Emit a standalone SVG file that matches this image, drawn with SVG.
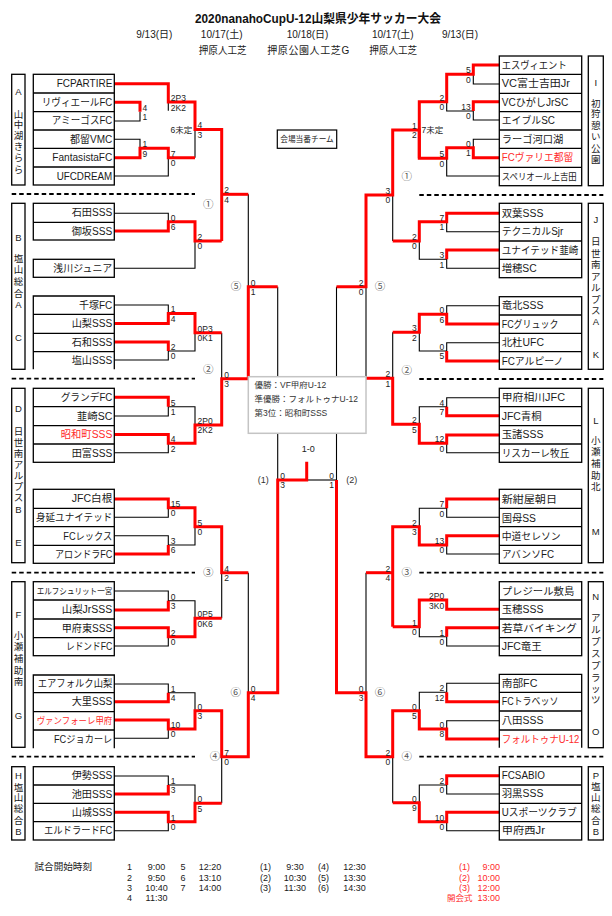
<svg xmlns="http://www.w3.org/2000/svg" width="612" height="916" viewBox="0 0 612 916">
<style>
.k{fill:none;stroke:#000;stroke-width:1.1}
.r{fill:none;stroke:#ff0000;stroke-width:3;stroke-linejoin:miter}
.bx{fill:none;stroke:#000;stroke-width:1.3}
.ds{fill:none;stroke:#000;stroke-width:1.8;stroke-dasharray:4.5 3}
text{font-family:"Liberation Sans","Noto Sans CJK JP",sans-serif}
.tn{font-size:10px;fill:#1a1a1a}
.tl{text-anchor:end}
.red{fill:#ff2b2b}
.gl{font-size:9.5px;fill:#1a1a1a;text-anchor:middle}
.sc{font-size:8.5px;fill:#222}
.sr{text-anchor:end}
.cn{font-size:10.5px;fill:#555;text-anchor:middle}
.hd{font-size:10px;fill:#1a1a1a;text-anchor:middle}
.ft{font-size:9px;fill:#1a1a1a;text-anchor:middle}
.fr{font-size:9px;fill:#ff2b2b;text-anchor:end}
</style>
<rect width="612" height="916" fill="#fff"/>

<g id="header">
<text x="318" y="22.5" text-anchor="middle" font-size="12.5" font-weight="bold" fill="#111" textLength="246" lengthAdjust="spacingAndGlyphs">2020nanahoCupU-12山梨県少年サッカー大会</text>
<text class="hd" x="154.3" y="37.6">9/13(日)</text>
<text class="hd" x="221.7" y="37.6">10/17(土)</text>
<text class="hd" x="307.6" y="37.6">10/18(日)</text>
<text class="hd" x="392.8" y="37.6">10/17(土)</text>
<text class="hd" x="460" y="37.6">9/13(日)</text>
<text class="hd" x="222.7" y="53.6" textLength="48" lengthAdjust="spacingAndGlyphs">押原人工芝</text>
<text class="hd" x="308.2" y="53.6" textLength="82" lengthAdjust="spacing">押原公園人工芝G</text>
<text class="hd" x="393.2" y="53.6" textLength="48" lengthAdjust="spacingAndGlyphs">押原人工芝</text>
</g>

<g id="dividers">
<path class="ds" d="M11.7 194H195M11.7 378.7H195M11.7 572.7H195M11.7 756.7H195M419.3 195H603.3M419.3 379H603.3M419.3 572.7H603.3M419.3 756.7H603.3"/>
</g>

<g id="connectors">
<g id="black-lines">
<polyline class="k" points="114.3,121 140,121 140,111.7"/>
<polyline class="k" points="114.3,139.3 140,139.3 140,148.3"/>
<polyline class="k" points="114.3,176 168.3,176 168.3,157.7"/>
<polyline class="k" points="168.3,102 168.3,110.7"/>
<polyline class="k" points="195,129.5 195,157.7"/>
<polyline class="k" points="114.3,213.3 168.3,213.3 168.3,221.7"/>
<polyline class="k" points="114.3,268.3 195,268.3 195,241"/>
<polyline class="k" points="248.3,194.3 248.3,286.7"/>
<polyline class="k" points="114.3,305 168.3,305 168.3,313.5"/>
<polyline class="k" points="114.3,360 168.3,360 168.3,351 195,351 195,332.7"/>
<polyline class="k" points="221.7,332.7 221.7,378.7"/>
<polyline class="k" points="114.3,416 168.3,416 168.3,406.7 195,406.7 195,425"/>
<polyline class="k" points="114.3,452.7 168.3,452.7 168.3,443.3"/>
<polyline class="k" points="114.3,517.3 168.3,517.3 168.3,507.7"/>
<polyline class="k" points="114.3,535.7 168.3,535.7 168.3,545 195,545 195,526.7"/>
<polyline class="k" points="114.3,591 168.3,591 168.3,600.7 195,600.7 195,618.3"/>
<polyline class="k" points="114.3,646 168.3,646 168.3,636.7"/>
<polyline class="k" points="221.7,572.7 221.7,618.3"/>
<polyline class="k" points="248.3,572.7 248.3,692.7"/>
<polyline class="k" points="114.3,684 168.3,684 168.3,692.7 195,692.7 195,710.7"/>
<polyline class="k" points="114.3,738.3 168.3,738.3 168.3,729"/>
<polyline class="k" points="114.3,776 168.3,776 168.3,785 195,785 195,803.3"/>
<polyline class="k" points="114.3,830.7 168.3,830.7 168.3,821.7"/>
<polyline class="k" points="221.7,756.7 221.7,803.3"/>
<polyline class="k" points="277.7,286.7 277.7,480"/>
<polyline class="k" points="306.7,480 336.5,480"/>
<polyline class="k" points="336.5,286.7 336.5,480"/>
<polyline class="k" points="499.3,84 473.3,84 473.3,74.3"/>
<polyline class="k" points="499.3,120 473.3,120 473.3,111 446.7,111 446.7,101.7"/>
<polyline class="k" points="499.3,139.3 473.3,139.3 473.3,147.7"/>
<polyline class="k" points="499.3,176 446.7,176 446.7,158.3"/>
<polyline class="k" points="392.7,195 392.7,241"/>
<polyline class="k" points="499.3,231.7 446.7,231.7 446.7,221.7"/>
<polyline class="k" points="499.3,268.3 446.7,268.3 446.7,259.3 419.3,259.3 419.3,241"/>
<polyline class="k" points="366,286.7 366,378.3"/>
<polyline class="k" points="499.3,305.7 446.7,305.7 446.7,314.3"/>
<polyline class="k" points="499.3,342.7 446.7,342.7 446.7,351 419.3,351 419.3,332.3"/>
<polyline class="k" points="392.7,332.3 392.7,378.3"/>
<polyline class="k" points="499.3,397.7 446.7,397.7 446.7,406.7 419.3,406.7 419.3,424.3"/>
<polyline class="k" points="499.3,452.7 446.7,452.7 446.7,443.3"/>
<polyline class="k" points="499.3,517.3 446.7,517.3 446.7,508.3 419.3,508.3 419.3,526.7"/>
<polyline class="k" points="499.3,554 446.7,554 446.7,545"/>
<polyline class="k" points="499.3,646 446.7,646 446.7,636.7 419.3,636.7 419.3,626.7"/>
<polyline class="k" points="366,572.7 366,692.7"/>
<polyline class="k" points="499.3,683.3 446.7,683.3 446.7,692.3 419.3,692.3 419.3,710.7"/>
<polyline class="k" points="499.3,720.7 446.7,720.7 446.7,729"/>
<polyline class="k" points="392.7,756.7 392.7,802.7"/>
<polyline class="k" points="499.3,794 446.7,794 446.7,785 419.3,785 419.3,802.7"/>
<polyline class="k" points="499.3,830.7 446.7,830.7 446.7,821.7"/>
</g>
<g id="red-lines">
<polyline class="r" points="114.3,83.7 168.3,83.7 168.3,102 195,102 195,129.5 221.7,129.5 221.7,241"/>
<polyline class="r" points="221.7,194.3 248.3,194.3"/>
<polyline class="r" points="114.3,102.3 140,102.3 140,111.7"/>
<polyline class="r" points="114.3,157.7 140,157.7 140,148.3 168.3,148.3 168.3,157.7 195,157.7"/>
<polyline class="r" points="114.3,231 168.3,231 168.3,221.7 195,221.7 195,241 221.7,241"/>
<polyline class="r" points="114.3,323.5 168.3,323.5 168.3,313.5 195,313.5 195,332.7 221.7,332.7"/>
<polyline class="r" points="114.3,342 168.3,342 168.3,351"/>
<polyline class="r" points="114.3,434.5 168.3,434.5 168.3,443.3 195,443.3 195,425 221.7,425 221.7,378.7 248.3,378.7 248.3,286.7 277.7,286.7"/>
<polyline class="r" points="114.3,397.3 168.3,397.3 168.3,406.7"/>
<polyline class="r" points="114.3,499 168.3,499 168.3,507.7 195,507.7 195,526.7 221.7,526.7 221.7,572.7 248.3,572.7"/>
<polyline class="r" points="114.3,554 168.3,554 168.3,545"/>
<polyline class="r" points="114.3,610 168.3,610 168.3,600.7"/>
<polyline class="r" points="114.3,627.7 168.3,627.7 168.3,636.7 195,636.7 195,618.3 221.7,618.3"/>
<polyline class="r" points="114.3,701.7 168.3,701.7 168.3,692.7"/>
<polyline class="r" points="114.3,720 168.3,720 168.3,729 195,729 195,710.7 221.7,710.7 221.7,756.7 248.3,756.7 248.3,692.7 277.7,692.7 277.7,480 306.7,480 306.7,461.7"/>
<polyline class="r" points="114.3,794 168.3,794 168.3,785"/>
<polyline class="r" points="114.3,812.3 168.3,812.3 168.3,821.7 195,821.7 195,803.3 221.7,803.3"/>
<polyline class="r" points="499.3,65 473.3,65 473.3,74.3 446.7,74.3 446.7,101.7 419.3,101.7 419.3,158.3"/>
<polyline class="r" points="499.3,101.7 473.3,101.7 473.3,111"/>
<polyline class="r" points="499.3,157.7 473.3,157.7 473.3,147.7 446.7,147.7 446.7,158.3 419.3,158.3 419.3,130 392.7,130 392.7,195 366,195 366,286.7 336.5,286.7"/>
<polyline class="r" points="499.3,213.3 446.7,213.3 446.7,221.7 419.3,221.7 419.3,241 392.7,241"/>
<polyline class="r" points="499.3,250 446.7,250 446.7,259.3"/>
<polyline class="r" points="499.3,324 446.7,324 446.7,314.3 419.3,314.3 419.3,332.3 392.7,332.3"/>
<polyline class="r" points="499.3,361 446.7,361 446.7,351"/>
<polyline class="r" points="499.3,415.7 446.7,415.7 446.7,406.7"/>
<polyline class="r" points="499.3,435 446.7,435 446.7,443.3 419.3,443.3 419.3,424.3 392.7,424.3 392.7,378.3 366,378.3"/>
<polyline class="r" points="499.3,499 446.7,499 446.7,508.3"/>
<polyline class="r" points="499.3,535.7 446.7,535.7 446.7,545 419.3,545 419.3,526.7 392.7,526.7 392.7,626.7"/>
<polyline class="r" points="392.7,572.7 366,572.7"/>
<polyline class="r" points="499.3,609.3 446.7,609.3 446.7,600 419.3,600 419.3,626.7 392.7,626.7"/>
<polyline class="r" points="499.3,627.7 446.7,627.7 446.7,636.7"/>
<polyline class="r" points="499.3,701.7 446.7,701.7 446.7,692.3"/>
<polyline class="r" points="499.3,739 446.7,739 446.7,729 419.3,729 419.3,710.7 392.7,710.7 392.7,756.7 366,756.7 366,692.7 336.5,692.7 336.5,480"/>
<polyline class="r" points="499.3,775.7 446.7,775.7 446.7,785"/>
<polyline class="r" points="499.3,812.3 446.7,812.3 446.7,821.7 419.3,821.7 419.3,802.7 392.7,802.7"/>
</g>
</g>

<g id="scores" class="sc">
<text x="142.5" y="110.5">4</text><text x="142.5" y="120">1</text>
<text x="142.5" y="147.1">1</text><text x="142.5" y="156.6">9</text>
<text x="170.8" y="100.7">2P3</text><text x="170.8" y="110.7">2K2</text>
<text x="170.5" y="133.3">6未定</text>
<text x="170.8" y="156.5">7</text><text x="170.8" y="166">0</text>
<text x="170.8" y="220.5">0</text><text x="170.8" y="230">6</text>
<text x="170.8" y="312.3">1</text><text x="170.8" y="321.8">4</text>
<text x="170.8" y="349.8">2</text><text x="170.8" y="359.3">0</text>
<text x="170.8" y="405.5">5</text><text x="170.8" y="415">1</text>
<text x="170.8" y="442.1">4</text><text x="170.8" y="451.6">2</text>
<text x="170.8" y="506.5">15</text><text x="170.8" y="516">0</text>
<text x="170.8" y="543.8">3</text><text x="170.8" y="553.3">6</text>
<text x="170.8" y="599.5">0</text><text x="170.8" y="609">3</text>
<text x="170.8" y="635.5">2</text><text x="170.8" y="645">0</text>
<text x="170.8" y="691.5">1</text><text x="170.8" y="701">4</text>
<text x="170.8" y="727.8">10</text><text x="170.8" y="737.3">0</text>
<text x="170.8" y="783.8">1</text><text x="170.8" y="793.3">3</text>
<text x="170.8" y="820.5">1</text><text x="170.8" y="830">0</text>
<text x="197.5" y="128.3">4</text><text x="197.5" y="137.8">3</text>
<text x="197.5" y="239.8">2</text><text x="197.5" y="249.3">0</text>
<text x="197.5" y="331.5">0P3</text><text x="197.5" y="341">0K1</text>
<text x="197.5" y="423.8">2P0</text><text x="197.5" y="433.3">2K2</text>
<text x="197.5" y="525.5">5</text><text x="197.5" y="535">0</text>
<text x="197.5" y="617.1">0P5</text><text x="197.5" y="626.6">0K6</text>
<text x="197.5" y="709.5">0</text><text x="197.5" y="719">3</text>
<text x="197.5" y="802.1">0</text><text x="197.5" y="811.6">5</text>
<text x="224.2" y="193.1">2</text><text x="224.2" y="202.6">4</text>
<text x="224.2" y="377.5">0</text><text x="224.2" y="387">3</text>
<text x="224.2" y="571.5">4</text><text x="224.2" y="581">2</text>
<text x="224.2" y="755.5">7</text><text x="224.2" y="765">0</text>
<text x="250.8" y="285.5">0</text><text x="250.8" y="295">1</text>
<text x="250.8" y="691.5">0</text><text x="250.8" y="701">4</text>
<text x="280.2" y="478.8">0</text><text x="280.2" y="488.3">3</text>
<g class="sr">
<text x="470.8" y="73.1">5</text><text x="470.8" y="82.6">0</text>
<text x="470.8" y="109.8">13</text><text x="470.8" y="119.3">0</text>
<text x="470.8" y="146.5">0</text><text x="470.8" y="156">1</text>
<text x="444.2" y="100.5">2</text><text x="444.2" y="110">0</text>
<text x="444.2" y="157.1">5</text><text x="444.2" y="166.6">0</text>
<text x="444.2" y="220.5">7</text><text x="444.2" y="230">1</text>
<text x="444.2" y="258.1">3</text><text x="444.2" y="267.6">1</text>
<text x="444.2" y="313.1">0</text><text x="444.2" y="322.6">6</text>
<text x="444.2" y="349.8">0</text><text x="444.2" y="359.3">5</text>
<text x="444.2" y="405.5">4</text><text x="444.2" y="415">7</text>
<text x="444.2" y="442.1">12</text><text x="444.2" y="451.6">0</text>
<text x="444.2" y="507.1">7</text><text x="444.2" y="516.6">0</text>
<text x="444.2" y="543.8">13</text><text x="444.2" y="553.3">0</text>
<text x="444.2" y="599.3">2P0</text><text x="444.2" y="608.8">3K0</text>
<text x="444.2" y="635.5">1</text><text x="444.2" y="645">0</text>
<text x="444.2" y="691.1">2</text><text x="444.2" y="700.6">12</text>
<text x="444.2" y="727.8">0</text><text x="444.2" y="737.3">8</text>
<text x="444.2" y="783.8">2</text><text x="444.2" y="793.3">0</text>
<text x="444.2" y="820.5">10</text><text x="444.2" y="830">0</text>
<text x="416.8" y="128.8">1</text><text x="416.8" y="138.3">2</text>
<text x="416.8" y="239.8">2</text><text x="416.8" y="249.3">0</text>
<text x="416.8" y="331.1">3</text><text x="416.8" y="340.6">2</text>
<text x="416.8" y="423.1">2</text><text x="416.8" y="432.6">5</text>
<text x="416.8" y="525.5">2</text><text x="416.8" y="535">3</text>
<text x="416.8" y="625.8">1</text><text x="416.8" y="635.3">0</text>
<text x="416.8" y="709.5">0</text><text x="416.8" y="719">5</text>
<text x="416.8" y="801.5">0</text><text x="416.8" y="811">9</text>
<text x="390.2" y="193.8">3</text><text x="390.2" y="203.3">0</text>
<text x="390.2" y="377.1">2</text><text x="390.2" y="386.6">1</text>
<text x="390.2" y="571.5">2</text><text x="390.2" y="581">4</text>
<text x="390.2" y="755.5">2</text><text x="390.2" y="765">0</text>
<text x="363.5" y="285.5">2</text><text x="363.5" y="295">0</text>
<text x="363.5" y="691.5">0</text><text x="363.5" y="701">3</text>
<text x="334" y="478.8">0</text><text x="334" y="488.3">1</text>
</g>
<text x="421.5" y="133.3">7未定</text>
</g>

<g id="round-marks" class="cn">
<text x="208.3" y="208">①</text><text x="208.3" y="373">②</text><text x="208.3" y="576.4">③</text><text x="215" y="760.4">④</text><text x="236" y="290.4">⑤</text><text x="235.7" y="696">⑥</text>
<text x="406.7" y="179.7">①</text><text x="406.7" y="373.7">②</text><text x="406.7" y="576.4">③</text><text x="406.7" y="760.4">④</text><text x="380" y="290.4">⑤</text><text x="380" y="696.4">⑥</text>
<text x="263.3" y="483.3" font-size="9" fill="#333">(1)</text>
<text x="351.7" y="483.3" font-size="9" fill="#333">(2)</text>
<text x="308.3" y="452.3" font-size="9" fill="#222">1-0</text>
</g>

<g id="duty-note">
<rect x="277.3" y="130" width="59.4" height="18.3" fill="#fff" stroke="#000" stroke-width="1.2"/>
<text x="307" y="142.2" text-anchor="middle" font-size="7.7" fill="#222">会場当番チーム</text>
</g>

<g id="result-box">
<rect x="248.3" y="376.7" width="117.7" height="56.6" fill="#fff" stroke="#c4c4c4" stroke-width="1.5"/>
<text x="254.5" y="388.2" font-size="8.5" fill="#333">優勝：VF甲府U-12</text>
<text x="254.5" y="402" font-size="8.5" fill="#333">準優勝：フォルトゥナU-12</text>
<text x="254.5" y="415.5" font-size="8.5" fill="#333">第3位：昭和町SSS</text>
</g>

<g id="group-A">
<rect class="bx" x="11.7" y="74.3" width="13.3" height="110.7"/>
<g class="gl"><text x="18.4" y="95.2">A</text><text x="18.4" y="117.8">山</text><text x="18.4" y="128.3">中</text><text x="18.4" y="138.8">湖</text><text x="18.4" y="149.5">き</text><text x="18.4" y="161.2">ら</text><text x="18.4" y="172.5">ら</text></g>
<rect class="bx" x="33.3" y="74.3" width="81" height="110.7"/>
<path class="bx" d="M33.3 93H114.3M33.3 111.7H114.3M33.3 130H114.3M33.3 148.3H114.3M33.3 167H114.3"/>
<g class="tn tl">
<text x="112.3" y="87.3" textLength="55.6" lengthAdjust="spacingAndGlyphs">FCPARTIRE</text>
<text x="112.3" y="105.9" textLength="70.6" lengthAdjust="spacingAndGlyphs">リヴィエールFC</text>
<text x="112.3" y="124.4" textLength="60.6" lengthAdjust="spacingAndGlyphs">アミーゴスFC</text>
<text x="112.3" y="142.8" textLength="42.3" lengthAdjust="spacingAndGlyphs">都留VMC</text>
<text x="112.3" y="161.3" textLength="60" lengthAdjust="spacingAndGlyphs">FantasistaFC</text>
<text x="112.3" y="179.6" textLength="55.6" lengthAdjust="spacingAndGlyphs">UFCDREAM</text>
</g>
</g>

<g id="group-BC">
<rect class="bx" x="11.7" y="203.3" width="13.3" height="166"/>
<g class="gl"><text x="18.4" y="240.8">B</text><text x="18.4" y="261.8">塩</text><text x="18.4" y="272.5">山</text><text x="18.4" y="284.5">総</text><text x="18.4" y="296.8">合</text><text x="18.4" y="307.8">A</text><text x="18.4" y="340.8">C</text></g>
<rect class="bx" x="33.3" y="203.3" width="81" height="36.7"/>
<path class="bx" d="M33.3 222.3H114.3"/>
<rect class="bx" x="33.3" y="259.3" width="81" height="18"/>
<path class="bx" d="M33.3 369.3V296H114.3V369.3M33.3 314.3H114.3M33.3 333.3H114.3M33.3 351.7H114.3"/>
<g class="tn tl">
<text x="112.3" y="216.3" textLength="40.6" lengthAdjust="spacingAndGlyphs">石田SSS</text>
<text x="112.3" y="234.8" textLength="40.6" lengthAdjust="spacingAndGlyphs">御坂SSS</text>
<text x="112.3" y="271.9" textLength="59" lengthAdjust="spacingAndGlyphs">浅川ジュニア</text>
<text x="112.3" y="308.8" textLength="33.3" lengthAdjust="spacingAndGlyphs">千塚FC</text>
<text x="112.3" y="327.4" textLength="40.6" lengthAdjust="spacingAndGlyphs">山梨SSS</text>
<text x="112.3" y="346.1" textLength="40.6" lengthAdjust="spacingAndGlyphs">石和SSS</text>
<text x="112.3" y="364.1" textLength="40.6" lengthAdjust="spacingAndGlyphs">塩山SSS</text>
</g>
</g>

<g id="group-DE">
<rect class="bx" x="11.7" y="388.3" width="13.3" height="174.4"/>
<g class="gl"><text x="18.4" y="411.8">D</text><text x="18.4" y="435.2">日</text><text x="18.4" y="445.8">世</text><text x="18.4" y="456.8">南</text><text x="18.4" y="467.5">ア</text><text x="18.4" y="478.5">ル</text><text x="18.4" y="490.2">プ</text><text x="18.4" y="501.2">ス</text><text x="18.4" y="512.8">B</text><text x="18.4" y="546.2">E</text></g>
<rect class="bx" x="33.3" y="388.3" width="81" height="74"/>
<path class="bx" d="M33.3 406.7H114.3M33.3 425.7H114.3M33.3 444H114.3"/>
<rect class="bx" x="33.3" y="489.3" width="81" height="74"/>
<path class="bx" d="M33.3 508.3H114.3M33.3 526.7H114.3M33.3 545.3H114.3"/>
<g class="tn tl">
<text x="112.3" y="401.1" textLength="51.6" lengthAdjust="spacingAndGlyphs">グランデFC</text>
<text x="112.3" y="419.8" textLength="35.6" lengthAdjust="spacingAndGlyphs">韮崎SC</text>
<text class="red" x="112.3" y="438.4" textLength="51.6" lengthAdjust="spacingAndGlyphs">昭和町SSS</text>
<text x="112.3" y="456.6" textLength="40.6" lengthAdjust="spacingAndGlyphs">田富SSS</text>
<text x="112.3" y="502.4" textLength="40.6" lengthAdjust="spacingAndGlyphs">JFC白根</text>
<text x="112.3" y="521.4" textLength="76.3" lengthAdjust="spacingAndGlyphs">身延ユナイテッド</text>
<text x="112.3" y="539.6" textLength="49" lengthAdjust="spacingAndGlyphs">FCレックス</text>
<text x="112.3" y="557.9" textLength="57.3" lengthAdjust="spacingAndGlyphs">アロンドラFC</text>
</g>
</g>

<g id="group-FG">
<rect class="bx" x="11.7" y="581.7" width="13.3" height="165.6"/>
<g class="gl"><text x="18.4" y="617.8">F</text><text x="18.4" y="638.5">小</text><text x="18.4" y="650.2">瀬</text><text x="18.4" y="661.8">補</text><text x="18.4" y="673.5">助</text><text x="18.4" y="685.2">南</text><text x="18.4" y="718.5">G</text></g>
<rect class="bx" x="33.3" y="581.7" width="81" height="74"/>
<path class="bx" d="M33.3 600H114.3M33.3 619H114.3M33.3 637.7H114.3"/>
<path class="bx" d="M33.3 748.3V675H114.3V748.3M33.3 692.7H114.3M33.3 711.7H114.3M33.3 730H114.3"/>
<g class="tn tl">
<text x="112.3" y="594.2" font-size="8.5" textLength="75.6" lengthAdjust="spacingAndGlyphs">エルフシュリット一宮</text>
<text x="112.3" y="613.1" textLength="50.6" lengthAdjust="spacingAndGlyphs">山梨JrSSS</text>
<text x="112.3" y="631.9" textLength="50.6" lengthAdjust="spacingAndGlyphs">甲府東SSS</text>
<text x="112.3" y="650.3" textLength="46.3" lengthAdjust="spacingAndGlyphs">レドンドFC</text>
<text x="112.3" y="687.4" textLength="74.6" lengthAdjust="spacingAndGlyphs">エアフォルク山梨</text>
<text x="112.3" y="705.4" textLength="40.6" lengthAdjust="spacingAndGlyphs">大里SSS</text>
<text class="red" x="112.3" y="724" font-size="9" textLength="75.6" lengthAdjust="spacingAndGlyphs">ヴァンフォーレ甲府</text>
<text x="112.3" y="742.8" textLength="58.3" lengthAdjust="spacingAndGlyphs">FCジョカーレ</text>
</g>
</g>

<g id="group-H">
<rect class="bx" x="11.7" y="766.7" width="13.3" height="73.3"/>
<g class="gl"><text x="18.4" y="778.5">H</text><text x="18.4" y="790.8">塩</text><text x="18.4" y="800.8">山</text><text x="18.4" y="811.8">総</text><text x="18.4" y="823.5">合</text><text x="18.4" y="835.2">B</text></g>
<rect class="bx" x="33.3" y="766.7" width="81" height="73.3"/>
<path class="bx" d="M33.3 785H114.3M33.3 803.3H114.3M33.3 821.7H114.3"/>
<g class="tn tl">
<text x="112.3" y="779.4" textLength="40.6" lengthAdjust="spacingAndGlyphs">伊勢SSS</text>
<text x="112.3" y="797.8" textLength="40.6" lengthAdjust="spacingAndGlyphs">池田SSS</text>
<text x="112.3" y="816.1" textLength="40.6" lengthAdjust="spacingAndGlyphs">山城SSS</text>
<text x="112.3" y="834.4" textLength="68.3" lengthAdjust="spacingAndGlyphs">エルドラードFC</text>
</g>
</g>

<g id="group-I">
<rect class="bx" x="588.3" y="56" width="15" height="129.7"/>
<g class="gl"><text x="595.8" y="86.2">I</text><text x="595.8" y="106.8">初</text><text x="595.8" y="116.8">狩</text><text x="595.8" y="128.5">憩</text><text x="595.8" y="139.5">い</text><text x="595.8" y="151.8">公</text><text x="595.8" y="162.8">園</text></g>
<rect class="bx" x="499.3" y="56" width="82.4" height="129.7"/>
<path class="bx" d="M499.3 74.3H581.7M499.3 93.3H581.7M499.3 111.7H581.7M499.3 130H581.7M499.3 148.3H581.7M499.3 167.3H581.7"/>
<g class="tn">
<text x="501.7" y="68.8" textLength="65" lengthAdjust="spacingAndGlyphs">エスヴィエント</text>
<text x="501.7" y="87.4" textLength="68.3" lengthAdjust="spacingAndGlyphs">VC富士吉田Jr</text>
<text x="501.7" y="106.1" textLength="66.7" lengthAdjust="spacingAndGlyphs">VCひがしJrSC</text>
<text x="501.7" y="124.4" textLength="53.3" lengthAdjust="spacingAndGlyphs">エイブルSC</text>
<text x="501.7" y="142.8" textLength="61.7" lengthAdjust="spacingAndGlyphs">ラーゴ河口湖</text>
<text class="red" x="501.7" y="161.3" textLength="71.7" lengthAdjust="spacingAndGlyphs">FCヴァリエ都留</text>
<text x="501.7" y="180.1" font-size="9" textLength="75" lengthAdjust="spacingAndGlyphs">スペリオール上吉田</text>
</g>
</g>

<g id="group-JK">
<rect class="bx" x="588.3" y="203.3" width="15" height="166"/>
<g class="gl"><text x="595.8" y="222.8">J</text><text x="595.8" y="245.2">日</text><text x="595.8" y="256.5">世</text><text x="595.8" y="268">南</text><text x="595.8" y="279.5">ア</text><text x="595.8" y="291">ル</text><text x="595.8" y="302.5">プ</text><text x="595.8" y="314">ス</text><text x="595.8" y="325.2">A</text><text x="595.8" y="357.8">K</text></g>
<rect class="bx" x="499.3" y="203.3" width="82.4" height="74.4"/>
<path class="bx" d="M499.3 222.3H581.7M499.3 241H581.7M499.3 259.3H581.7"/>
<rect class="bx" x="499.3" y="296.7" width="82.4" height="72.6"/>
<path class="bx" d="M499.3 315H581.7M499.3 333.3H581.7M499.3 351.7H581.7"/>
<g class="tn">
<text x="501.7" y="216.8" textLength="41.7" lengthAdjust="spacingAndGlyphs">双葉SSS</text>
<text x="501.7" y="235.1" textLength="61.7" lengthAdjust="spacingAndGlyphs">テクニカルSjr</text>
<text x="501.7" y="253.6" textLength="76.7" lengthAdjust="spacingAndGlyphs">ユナイテッド韮崎</text>
<text x="501.7" y="272.1" textLength="35" lengthAdjust="spacingAndGlyphs">増穂SC</text>
<text x="501.7" y="309.4" textLength="41.7" lengthAdjust="spacingAndGlyphs">竜北SSS</text>
<text x="501.7" y="327.8" textLength="56.7" lengthAdjust="spacingAndGlyphs">FCグリュック</text>
<text x="501.7" y="346.1" textLength="42.3" lengthAdjust="spacingAndGlyphs">北杜UFC</text>
<text x="501.7" y="364.6" textLength="61.7" lengthAdjust="spacingAndGlyphs">FCアルピーノ</text>
</g>
</g>

<g id="group-LM">
<rect class="bx" x="588.3" y="388.3" width="15" height="174.4"/>
<g class="gl"><text x="595.8" y="423.5">L</text><text x="595.8" y="444.2">小</text><text x="595.8" y="455.2">瀬</text><text x="595.8" y="466.8">補</text><text x="595.8" y="478.5">助</text><text x="595.8" y="490.2">北</text><text x="595.8" y="535.2">M</text></g>
<rect class="bx" x="499.3" y="388.3" width="82.4" height="74"/>
<path class="bx" d="M499.3 406.7H581.7M499.3 425.7H581.7M499.3 444H581.7"/>
<rect class="bx" x="499.3" y="489.3" width="82.4" height="74"/>
<path class="bx" d="M499.3 508.3H581.7M499.3 526.7H581.7M499.3 545.3H581.7"/>
<g class="tn">
<text x="501.7" y="401.1" textLength="63.3" lengthAdjust="spacingAndGlyphs">甲府相川JFC</text>
<text x="501.7" y="419.8" textLength="40" lengthAdjust="spacingAndGlyphs">JFC青桐</text>
<text x="501.7" y="438.4" textLength="41.7" lengthAdjust="spacingAndGlyphs">玉諸SSS</text>
<text x="501.7" y="456.6" textLength="67.7" lengthAdjust="spacingAndGlyphs">リスカーレ牧丘</text>
<text x="501.7" y="502.6" textLength="55.3" lengthAdjust="spacingAndGlyphs">新紺屋朝日</text>
<text x="501.7" y="521.6" textLength="34.3" lengthAdjust="spacingAndGlyphs">国母SS</text>
<text x="501.7" y="539.9" textLength="59" lengthAdjust="spacingAndGlyphs">中道セレソン</text>
<text x="501.7" y="558.1" textLength="52.3" lengthAdjust="spacingAndGlyphs">アバンソFC</text>
</g>
</g>

<g id="group-NO">
<rect class="bx" x="588.3" y="581.7" width="15" height="166"/>
<g class="gl"><text x="595.8" y="600.2">N</text><text x="595.8" y="620.5">ア</text><text x="595.8" y="632.5">ル</text><text x="595.8" y="644.5">プ</text><text x="595.8" y="656.5">ス</text><text x="595.8" y="668.5">プ</text><text x="595.8" y="680.5">ラ</text><text x="595.8" y="692">ッ</text><text x="595.8" y="703">ツ</text><text x="595.8" y="735.2">O</text></g>
<rect class="bx" x="499.3" y="581.7" width="82.4" height="74"/>
<path class="bx" d="M499.3 600H581.7M499.3 619H581.7M499.3 637.7H581.7"/>
<path class="bx" d="M499.3 747.7V674.3H581.7V747.7M499.3 692.3H581.7M499.3 711H581.7M499.3 730H581.7"/>
<g class="tn">
<text x="501.7" y="594.6" textLength="72.7" lengthAdjust="spacingAndGlyphs">プレジール敷島</text>
<text x="501.7" y="613.3" textLength="41.7" lengthAdjust="spacingAndGlyphs">玉穂SSS</text>
<text x="501.7" y="631.6" textLength="75" lengthAdjust="spacingAndGlyphs">若草バイキング</text>
<text x="501.7" y="650.3" textLength="40" lengthAdjust="spacingAndGlyphs">JFC竜王</text>
<text x="501.7" y="686.9" textLength="35.7" lengthAdjust="spacingAndGlyphs">南部FC</text>
<text x="501.7" y="705.3" textLength="56.7" lengthAdjust="spacingAndGlyphs">FCトラベッソ</text>
<text x="501.7" y="724.3" textLength="41.7" lengthAdjust="spacingAndGlyphs">八田SSS</text>
<text class="red" x="501.7" y="742.6" textLength="77.7" lengthAdjust="spacingAndGlyphs">フォルトゥナU-12</text>
</g>
</g>

<g id="group-P">
<rect class="bx" x="588.3" y="766.7" width="15" height="73.3"/>
<g class="gl"><text x="595.8" y="778.5">P</text><text x="595.8" y="790.2">塩</text><text x="595.8" y="800.8">山</text><text x="595.8" y="811.8">総</text><text x="595.8" y="823.5">合</text><text x="595.8" y="835.2">B</text></g>
<rect class="bx" x="499.3" y="766.7" width="82.4" height="73.3"/>
<path class="bx" d="M499.3 785H581.7M499.3 803.3H581.7M499.3 821.7H581.7"/>
<g class="tn">
<text x="501.7" y="779.3" textLength="43.3" lengthAdjust="spacingAndGlyphs">FCSABIO</text>
<text x="501.7" y="797.3" textLength="41.7" lengthAdjust="spacingAndGlyphs">羽黒SSS</text>
<text x="501.7" y="815.9" textLength="75" lengthAdjust="spacingAndGlyphs">Uスポーツクラブ</text>
<text x="501.7" y="834.3" textLength="43.3" lengthAdjust="spacingAndGlyphs">甲府西Jr</text>
</g>
</g>

<g id="schedule">
<text x="34.5" y="870.2" font-size="9.5" fill="#1a1a1a" textLength="57.5" lengthAdjust="spacingAndGlyphs">試合開始時刻</text>
<g class="ft">
<text x="129.4" y="870.2">1</text><text x="156.5" y="870.2">9:00</text><text x="183" y="870.2">5</text><text x="210" y="870.2">12:20</text>
<text x="129.4" y="880.5">2</text><text x="156.5" y="880.5">9:50</text><text x="183" y="880.5">6</text><text x="210" y="880.5">13:10</text>
<text x="129.4" y="890.8">3</text><text x="156.5" y="890.8">10:40</text><text x="183" y="890.8">7</text><text x="210" y="890.8">14:00</text>
<text x="129.4" y="901.1">4</text><text x="156.5" y="901.1">11:30</text>
<text x="265.5" y="870.2">(1)</text><text x="295" y="870.2">9:30</text><text x="323.5" y="870.2">(4)</text><text x="354.5" y="870.2">12:30</text>
<text x="265.5" y="880.5">(2)</text><text x="295" y="880.5">10:30</text><text x="323.5" y="880.5">(5)</text><text x="354.5" y="880.5">13:30</text>
<text x="265.5" y="890.8">(3)</text><text x="295" y="890.8">11:30</text><text x="323.5" y="890.8">(6)</text><text x="354.5" y="890.8">14:30</text>
</g>
<g class="fr">
<text x="470" y="870.2">(1)</text><text x="500" y="870.2">9:00</text>
<text x="470" y="880.5">(2)</text><text x="500" y="880.5">10:00</text>
<text x="470" y="890.8">(3)</text><text x="500" y="890.8">12:00</text>
<text x="472.5" y="901.1" font-size="8.5">開会式</text><text x="500" y="901.1">13:00</text>
</g>
</g>
</svg>
